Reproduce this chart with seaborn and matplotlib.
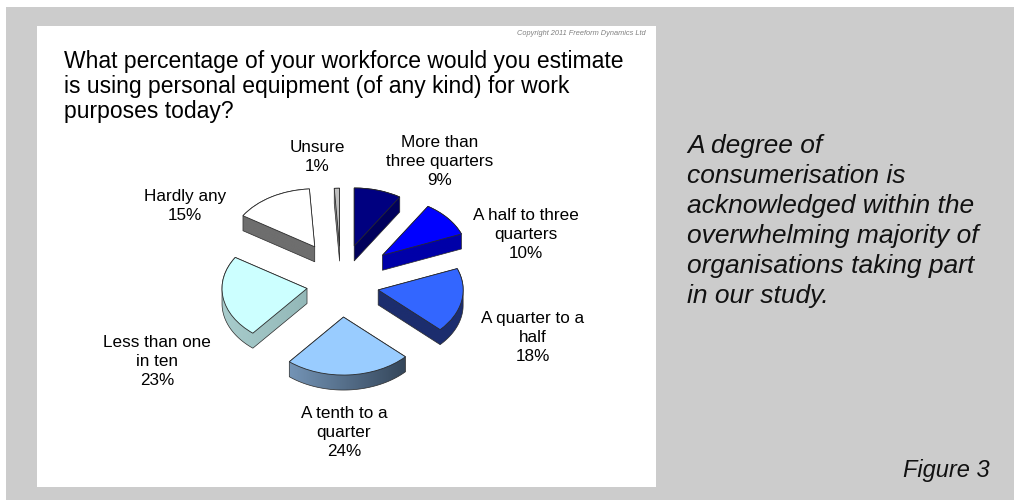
import numpy as np
import matplotlib
matplotlib.use("Agg")
import matplotlib.pyplot as plt
from matplotlib.patches import Wedge, Rectangle, Polygon
from matplotlib.colors import LinearSegmentedColormap
import seaborn as sns

# Survey answers (share of respondents, %), clockwise from 12 o'clock
categories = [
    "More than\nthree quarters",
    "A half to three\nquarters",
    "A quarter to a\nhalf",
    "A tenth to a\nquarter",
    "Less than one\nin ten",
    "Hardly any",
    "Unsure",
]
shares = [9, 10, 18, 24, 23, 15, 1]

title_lines = [
    "What percentage of your workforce would you estimate",
    "is using personal equipment (of any kind) for work",
    "purposes today?",
]
commentary_lines = [
    "A degree of",
    "consumerisation is",
    "acknowledged within the",
    "overwhelming majority of",
    "organisations taking part",
    "in our study.",
]
figure_tag = "Figure 3"
copyright_note = "Copyright 2011 Freeform Dynamics Ltd"

# Slice styling: top face colour, side shading (left -> right), explosion strength
top_colors = ["#000080", "#0000FF", "#3366FF", "#99CCFF", "#CCFFFF", "#FFFFFF", "#C0C0C0"]
side_left = ["#00005C", "#0000A8", "#1C2D6E", "#7494B6", "#A8CCCC", "#6E6E6E", "#9A9A9A"]
side_right = ["#00005C", "#0000A8", "#1C2D6E", "#34465A", "#93B8B8", "#6E6E6E", "#7A7A7A"]
explode = [1.1, 1.25, 0.88, 0.92, 0.8, 1.2, 1.05]
# Label anchors: centre x and first baseline (pixels, y downward)
label_xy = [(440, 147), (526, 220), (533, 323), (344, 418), (157, 347), (185, 201), (317, 152)]

sns.set_style("white")
plt.rcParams["font.family"] = ["Liberation Sans", "DejaVu Sans"]

W, H = 1014, 500
fig = plt.figure(figsize=(W / 100, H / 100), dpi=100, facecolor="white")

# Background panels
ax_bg = fig.add_axes([0, 0, 1, 1])
ax_bg.set_xlim(0, W)
ax_bg.set_ylim(H, 0)
ax_bg.axis("off")
ax_bg.add_patch(Rectangle((6, 7), W - 6, H - 7, facecolor="#CCCCCC", edgecolor="none"))
ax_bg.add_patch(Rectangle((37, 26), 619, 461, facecolor="white", edgecolor="none"))

# Pie axes: x in pixels, y squashed to tilt the pie plane
tilt = 58 / 85
ax_pie = fig.add_axes([0, 0, 1, 1])
ax_pie.patch.set_alpha(0)

cx, cy = 341, 284          # pie centre (screen px)
radius = 85
burst_x, burst_y = 43, 36  # explosion offsets (screen px)
depth = 15


def convex_hull(pts):
    pts = sorted(map(tuple, pts))

    def half(seq):
        out = []
        for p in seq:
            while len(out) >= 2 and ((out[-1][0] - out[-2][0]) * (p[1] - out[-2][1])
                                     - (out[-1][1] - out[-2][1]) * (p[0] - out[-2][0])) <= 0:
                out.pop()
            out.append(p)
        return out

    lower, upper = half(pts), half(pts[::-1])
    return np.array(lower[:-1] + upper[:-1])


def wedge_outline(xc, yc, t1, t2):
    th = np.deg2rad(np.linspace(t1, t2, 80))
    return np.vstack([[xc, yc], np.column_stack([xc + radius * np.cos(th),
                                                 yc + radius * np.sin(th)])])


vals = np.asarray(shares, dtype=float)
bounds = np.concatenate([[0], np.cumsum(vals)]) / vals.sum() * 360.0
slices = []
for i in range(len(vals)):
    a0, a1 = bounds[i], bounds[i + 1]
    mid = np.deg2rad((a0 + a1) / 2)
    sx = cx + explode[i] * burst_x * np.sin(mid)
    sy = cy - explode[i] * burst_y * np.cos(mid)
    slices.append((sy, i, sx, 90 - a1, 90 - a0))

# back slices first so nearer ones overlap them
for rank, (sy, i, sx, t1, t2) in enumerate(sorted(slices)):
    z = 2 + 3 * rank
    top_y = (H - sy) / tilt
    low_y = (H - sy - depth) / tilt
    body = convex_hull(np.vstack([wedge_outline(sx, top_y, t1, t2),
                                  wedge_outline(sx, low_y, t1, t2)]))
    shell = Polygon(body, closed=True, facecolor="none", edgecolor="none")
    ax_pie.add_patch(shell)
    shade = LinearSegmentedColormap.from_list(f"side{i}", [side_left[i], side_right[i]])
    img = ax_pie.imshow(np.linspace(0, 1, 256)[None, :], cmap=shade, aspect="auto",
                        extent=(body[:, 0].min(), body[:, 0].max(),
                                body[:, 1].min(), body[:, 1].max()),
                        interpolation="bilinear", zorder=z)
    img.set_clip_path(shell)
    ax_pie.add_patch(Polygon(body, closed=True, facecolor="none", edgecolor="#2a2a2a",
                             linewidth=0.5, zorder=z + 1))
    ax_pie.add_patch(Wedge((sx, top_y), radius, t1, t2, facecolor=top_colors[i],
                           edgecolor="#2a2a2a", linewidth=0.6, zorder=z + 2))

ax_pie.set_xlim(0, W)
ax_pie.set_ylim(0, H / tilt)
ax_pie.axis("off")

# Text overlay
ax_t = fig.add_axes([0, 0, 1, 1])
ax_t.set_xlim(0, W)
ax_t.set_ylim(H, 0)
ax_t.axis("off")
ax_t.patch.set_alpha(0)


def stacked(x, y0, lines, step, **kw):
    for j, line in enumerate(lines):
        ax_t.text(x, y0 + j * step, line, va="baseline", **kw)


stacked(64, 68, title_lines, 25, fontsize=16.5, ha="left", color="black")
ax_t.text(646, 35, copyright_note, fontsize=5.3, style="italic", ha="right", va="baseline",
          color="#808080", family=["Liberation Sans Narrow", "Liberation Sans", "DejaVu Sans"])

for (lx, ly), name, v in zip(label_xy, categories, shares):
    stacked(lx, ly, name.split("\n") + [f"{v}%"], 19, fontsize=12.3, ha="center", color="black")

stacked(687, 153, commentary_lines, 30, fontsize=19, style="italic", ha="left", color="#111111")
ax_t.text(990, 477, figure_tag, fontsize=17, style="italic", ha="right", va="baseline",
          color="#111111")

fig.savefig("out.png", dpi=100, facecolor="white")
